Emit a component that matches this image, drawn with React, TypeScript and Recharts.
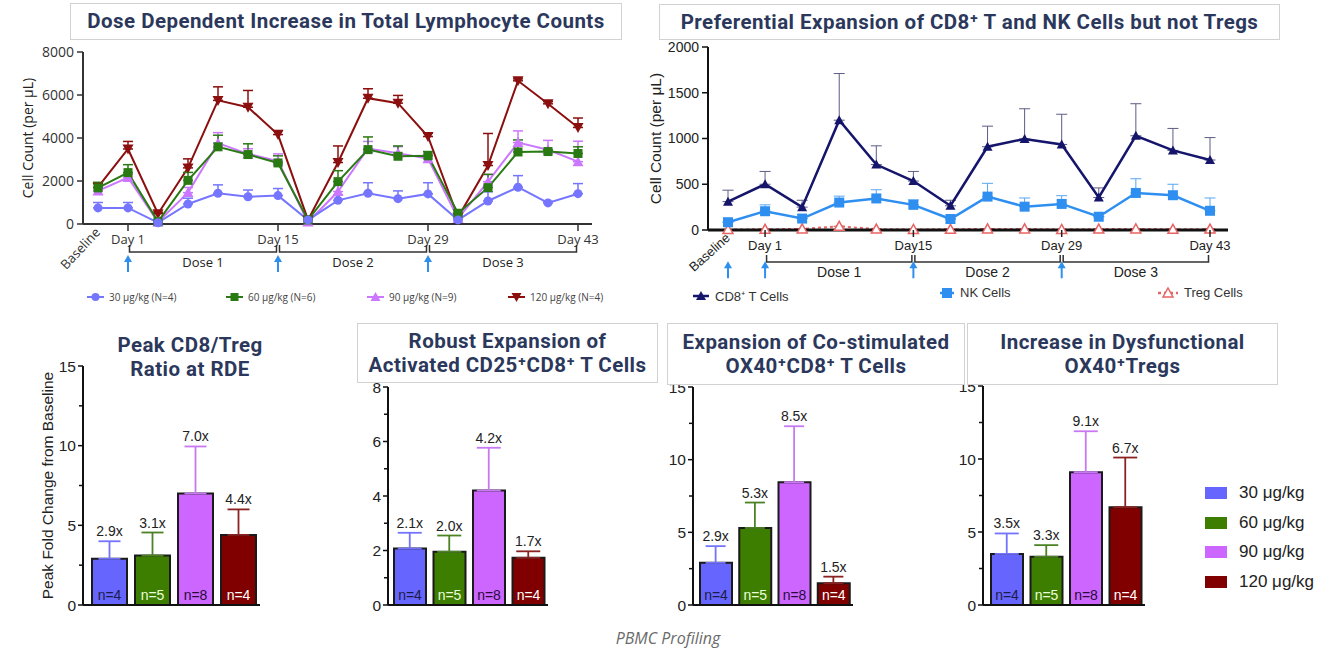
import React from 'react';
import {
  LineChart, Line, XAxis, YAxis, ErrorBar, ReferenceLine, ReferenceDot,
  ComposedChart, Bar, Cell, LabelList,
} from 'recharts';

// fonts / colours
const SANS = "'Liberation Sans', Arial, sans-serif";
const NARROW = "'Liberation Sans Narrow', 'Liberation Sans', Arial, sans-serif";
const PLEX = "'Open Sans', 'Noto Sans', sans-serif";
const TITLE_FONT = "Roboto, 'Open Sans', sans-serif";
const NAVY = '#2b385c';
const ARROW = '#2f8fef';

// ---------- total lymphocyte counts (per uL) ----------
const lymphTimepoints = ['Baseline', 'Day 1', 't2', 't3', 't4', 't5', 'Day 15', 't7', 't8', 't9', 't10', 'Day 29', 't12', 't13', 't14', 't15', 'Day 43'];
const lymphTicks = ['Baseline', 'Day 1', 'Day 15', 'Day 29', 'Day 43'];
const lymph30 = [750, 750, 60, 930, 1430, 1270, 1320, 190, 1100, 1430, 1180, 1400, 190, 1070, 1710, 980, 1410];
const lymph30Top = [1000, 1000, 120, 1200, 1820, 1580, 1650, 250, 1350, 1920, 1540, 1920, 280, 1500, 2250, 1050, 1880];
const lymph60 = [1680, 2390, 110, 2030, 3590, 3230, 2840, 190, 1970, 3460, 3150, 3170, 500, 1690, 3350, 3370, 3280];
const lymph60Top = [1940, 2760, 200, 2400, 4130, 3730, 3170, 250, 2480, 4050, 3630, 3370, 650, 2310, 3910, 3450, 3590];
const lymph90 = [1540, 2160, 90, 1460, 3760, 3260, 2920, 90, 1510, 3510, 3290, 3040, 260, 1970, 3790, 3450, 2900];
const lymph90Top = [1700, 2300, 150, 1700, 4250, 3500, 3260, 150, 1800, 3840, 3600, 3250, 400, 2300, 4330, 3890, 3850];
const lymph120 = [1710, 3490, 480, 2610, 5750, 5430, 4160, 190, 2860, 5850, 5620, 4070, 310, 2720, 6660, 5590, 4490];
const lymph120Top = [1900, 3840, 550, 3030, 6380, 6210, 4350, 250, 3630, 6290, 5980, 4220, 400, 4210, 6750, 5690, 4930];
const lymphDoseRanges = [['Day 1', 'Day 15', 'Dose 1'], ['Day 15', 'Day 29', 'Dose 2'], ['Day 29', 'Day 43', 'Dose 3']];
const lymphArrows = ['Day 1', 'Day 15', 'Day 29'];

// ---------- CD8 / NK / Treg (per uL) ----------
const subsetTimepoints = ['Baseline', 'Day 1', 't2', 't3', 't4', 'Day15', 't6', 't7', 't8', 'Day 29', 't10', 't11', 't12', 'Day 43'];
const subsetTicks = ['Baseline', 'Day 1', 'Day15', 'Day 29', 'Day 43'];
const cd8 = [310, 500, 250, 1200, 715, 535, 265, 910, 995, 935, 355, 1030, 870, 765];
const cd8Top = [435, 640, 325, 1710, 920, 640, 325, 1135, 1325, 1265, 460, 1380, 1110, 1010];
const nk = [85, 205, 125, 300, 345, 275, 120, 365, 255, 285, 145, 405, 380, 210];
const nkTop = [85, 275, 125, 370, 440, 330, 120, 510, 350, 375, 145, 560, 500, 350];
const treg = [5, 8, 12, 40, 10, 6, 8, 12, 12, 6, 10, 12, 8, 10];
const subsetDoseRanges = [['Day 1', 'Day15', 'Dose 1'], ['Day15', 'Day 29', 'Dose 2'], ['Day 29', 'Day 43', 'Dose 3']];
const subsetArrows = ['Baseline', 'Day 1', 'Day15', 'Day 29'];

// ---------- peak fold change bars ----------
const doses = ['30 μg/kg', '60 μg/kg', '90 μg/kg', '120 μg/kg'];
const doseN = ['n=4', 'n=5', 'n=8', 'n=4'];
const doseColors = ['#6666ff', '#3d7d00', '#cc66ff', '#800000'];
const errColors = ['#7373ff', '#4b8222', '#c878f2', '#8b2222'];
const nLabelColors = ['#1c1c48', '#eaffdc', '#2a0a3a', '#ffffff'];

const cd8TregRatio = [2.9, 3.1, 7.0, 4.4];
const cd8TregRatioTop = [4.0, 4.55, 9.95, 6.0];
const cd8TregRatioLabels = ['2.9x', '3.1x', '7.0x', '4.4x'];

const cd25Cd8 = [2.07, 1.95, 4.2, 1.73];
const cd25Cd8Top = [2.65, 2.55, 5.77, 1.97];
const cd25Cd8Labels = ['2.1x', '2.0x', '4.2x', '1.7x'];

const ox40Cd8 = [2.9, 5.3, 8.45, 1.5];
const ox40Cd8Top = [4.05, 7.05, 12.3, 1.95];
const ox40Cd8Labels = ['2.9x', '5.3x', '8.5x', '1.5x'];

const ox40Treg = [3.5, 3.3, 9.1, 6.7];
const ox40TregTop = [4.9, 4.1, 11.9, 10.1];
const ox40TregLabels = ['3.5x', '3.3x', '9.1x', '6.7x'];

const lymphGroups = [
  { key: 'g120', name: '120 μg/kg (N=4)', color: '#8b0f0f', shape: 'triangleDown', mean: lymph120, top: lymph120Top },
  { key: 'g90', name: '90 μg/kg (N=9)', color: '#cc77ff', shape: 'triangle', mean: lymph90, top: lymph90Top },
  { key: 'g60', name: '60 μg/kg (N=6)', color: '#2a7a14', shape: 'square', mean: lymph60, top: lymph60Top },
  { key: 'g30', name: '30 μg/kg (N=4)', color: '#7575ff', shape: 'circle', mean: lymph30, top: lymph30Top },
];

const Marker = ({ cx, cy, shape, color, size }: any) => {
  if (cx == null || cy == null) return null;
  const h = size / 2;
  if (shape === 'circle') return <circle cx={cx} cy={cy} r={h} fill={color} />;
  if (shape === 'square') return <rect x={cx - h} y={cy - h} width={size} height={size} fill={color} />;
  if (shape === 'triangleDown')
    return <polygon points={`${cx - h - 1},${cy - h} ${cx + h + 1},${cy - h} ${cx},${cy + h + 1}`} fill={color} />;
  if (shape === 'triangleOpen')
    return <polygon points={`${cx},${cy - h - 1} ${cx + h + 1},${cy + h} ${cx - h - 1},${cy + h}`} fill="#fff" stroke={color} strokeWidth={1.5} />;
  return <polygon points={`${cx},${cy - h - 1} ${cx + h + 1},${cy + h} ${cx - h - 1},${cy + h}`} fill={color} />;
};

const DayTick = (p: any) => {
  const { x, y, payload, size, color, rot } = p;
  const v = payload.value;
  if (v === 'Baseline') {
    return (
      <text x={0} y={0} transform={`translate(${x + 3},${y + 9}) rotate(${rot})`} textAnchor="end" fontSize={size} fill={color}>
        {v}
      </text>
    );
  }
  return (
    <g>
      <line x1={x} y1={y} x2={x} y2={y + 7} stroke={color} strokeWidth={1.5} />
      <text x={x} y={y + 20} textAnchor="middle" fontSize={size} fill={color}>{v}</text>
    </g>
  );
};

const AxisTitle = (p: any) => {
  const vb = p.viewBox || {};
  const cx = vb.x + p.ox;
  const cy = vb.y + vb.height / 2;
  return (
    <text x={cx} y={cy} transform={`rotate(-90 ${cx} ${cy})`} textAnchor="middle" dominantBaseline="central"
      fontSize={p.size} fill="#222" fontFamily={p.font}>
      {p.text}
    </text>
  );
};

const Bracket = (p: any) => {
  const l = Math.min(p.x1, p.x2) + 1.5;
  const r = Math.max(p.x1, p.x2) - 1.5;
  const y = p.y1;
  return (
    <g>
      <path d={`M${l},${y - 7}L${l},${y}L${r},${y}L${r},${y - 7}`} stroke="#333" strokeWidth={1.5} fill="none" />
      <text x={(l + r) / 2} y={y + 15} textAnchor="middle" fontSize={p.size} fill="#222">{p.text}</text>
    </g>
  );
};

const Arrow = ({ cx, cy }: any) => (
  <g>
    <line x1={cx} y1={cy - 3} x2={cx} y2={cy + 8} stroke={ARROW} strokeWidth={2} />
    <polygon points={`${cx},${cy - 9} ${cx - 4},${cy - 2} ${cx + 4},${cy - 2}`} fill={ARROW} />
  </g>
);

function LymphChart() {
  const data = lymphTimepoints.map((t, i) => {
    const row: any = { t };
    lymphGroups.forEach((g) => {
      row[g.key] = g.mean[i];
      row[g.key + 'Err'] = [0, g.top[i] - g.mean[i]];
    });
    return row;
  });
  return (
    <div style={{ position: 'absolute', left: 0, top: 0, fontFamily: PLEX }}>
      <LineChart width={600} height={280} data={data} margin={{ top: 52, right: 8, bottom: 0, left: 0 }}>
        <XAxis dataKey="t" ticks={lymphTicks} interval={0} padding={{ left: 15, right: 14 }} height={56}
          tickSize={0} tickMargin={0} tickLine={false} axisLine={{ stroke: '#333', strokeWidth: 2 }}
          tick={(p: any) => <DayTick {...p} size={13} color="#333" rot={-47} />} />
        <YAxis domain={[0, 8000]} ticks={[0, 2000, 4000, 6000, 8000]} interval={0} width={83}
          axisLine={{ stroke: '#333', strokeWidth: 2 }} tickLine={{ stroke: '#333', strokeWidth: 1.5 }}
          tickSize={6} tickMargin={3} tick={{ fontSize: 14, fill: '#333' }}
          label={<AxisTitle text="Cell Count (per μL)" ox={27} size={14} font={PLEX} />} />
        {lymphDoseRanges.map(([a, b, txt]) => (
          <ReferenceLine key={txt} segment={[{ x: a, y: -1300 }, { x: b, y: -1300 }]} ifOverflow="visible"
            shape={(p: any) => <Bracket {...p} text={txt} size={13} />} />
        ))}
        {lymphArrows.map((d) => (
          <ReferenceDot key={d} x={d} y={-1860} ifOverflow="visible" shape={(p: any) => <Arrow {...p} />} />
        ))}
        {lymphGroups.map((g) => (
          <Line key={g.key} dataKey={g.key} stroke={g.color} strokeWidth={2} isAnimationActive={false} activeDot={false}
            dot={(p: any) => <Marker key={p.index} cx={p.cx} cy={p.cy} shape={g.shape} color={g.color} size={9} />}>
            <ErrorBar dataKey={g.key + 'Err'} width={5} stroke={g.color} strokeWidth={1.5} direction="y" />
          </Line>
        ))}
      </LineChart>
    </div>
  );
}

const subsetSeries = [
  { key: 'treg', name: 'Treg Cells', color: '#e86464', shape: 'triangleOpen', mean: treg, top: treg, width: 2, dash: '3 3', size: 8, err: '#e86464' },
  { key: 'nk', name: 'NK Cells', color: '#2f8ff0', shape: 'square', mean: nk, top: nkTop, width: 2.5, dash: undefined, size: 10, err: '#5aa6f2' },
  { key: 'cd8', name: 'CD8⁺ T Cells', color: '#15156b', shape: 'triangle', mean: cd8, top: cd8Top, width: 2.5, dash: undefined, size: 8, err: '#5c5c86' },
];

function SubsetChart() {
  const data = subsetTimepoints.map((t, i) => {
    const row: any = { t };
    subsetSeries.forEach((s) => {
      row[s.key] = s.mean[i];
      row[s.key + 'Err'] = [0, s.top[i] - s.mean[i]];
    });
    return row;
  });
  return (
    <div style={{ position: 'absolute', left: 620, top: 0, fontFamily: NARROW }}>
      <LineChart width={620} height={285} data={data} margin={{ top: 47, right: 12, bottom: 0, left: 0 }}>
        <XAxis dataKey="t" ticks={subsetTicks} interval={0} padding={{ left: 20, right: 18 }} height={55}
          tickSize={0} tickMargin={0} tickLine={false} axisLine={{ stroke: '#111', strokeWidth: 3 }}
          tick={(p: any) => <DayTick {...p} size={13} color="#222" rot={-42} />} />
        <YAxis domain={[0, 2000]} ticks={[0, 500, 1000, 1500, 2000]} interval={0} width={88}
          axisLine={{ stroke: '#111', strokeWidth: 2 }} tickLine={{ stroke: '#111', strokeWidth: 1.5 }}
          tickSize={6} tickMargin={3} tick={{ fontSize: 14, fill: '#222' }}
          label={<AxisTitle text="Cell Count (per μL)" ox={35} size={15.5} font={SANS} />} />
        {subsetDoseRanges.map(([a, b, txt]) => (
          <ReferenceLine key={txt} segment={[{ x: a, y: -350 }, { x: b, y: -350 }]} ifOverflow="visible"
            shape={(p: any) => <Bracket {...p} text={txt} size={14} />} />
        ))}
        {subsetArrows.map((d) => (
          <ReferenceDot key={d} x={d} y={-440} ifOverflow="visible" shape={(p: any) => <Arrow {...p} />} />
        ))}
        {subsetSeries.map((s) => (
          <Line key={s.key} dataKey={s.key} stroke={s.color} strokeWidth={s.width} strokeDasharray={s.dash}
            isAnimationActive={false} activeDot={false}
            dot={(p: any) => <Marker key={p.index} cx={p.cx} cy={p.cy} shape={s.shape} color={s.color} size={s.size} />}>
            <ErrorBar dataKey={s.key + 'Err'} width={5.5} stroke={s.err} strokeWidth={1} direction="y" />
          </Line>
        ))}
      </LineChart>
    </div>
  );
}

const FoldTick = (p: any) => {
  const { x, y, payload, majors } = p;
  const major = majors.includes(payload.value);
  return (
    <g>
      <line x1={x} x2={x - (major ? 5 : 4)} y1={y} y2={y} stroke="#111" strokeWidth={1.5} />
      {major && (
        <text x={x - 7} y={y} dy="0.36em" textAnchor="end" fontSize={15.5} fill="#222">{payload.value}</text>
      )}
    </g>
  );
};

const NLabel = (p: any) => (
  <text x={p.x + p.width / 2} y={p.y + p.height - 5} textAnchor="middle" fontSize={14} fill={nLabelColors[p.index]}>
    {p.value}
  </text>
);

function FoldChart(props: any) {
  const { left, width, yWidth, right, topMargin, padLeft, barSize, capHalf, domain, ticks, majors, values, tops, folds, yTitle } = props;
  const rows = doses.map((dose, i) => {
    const row: any = { dose, value: values[i], top: tops[i], fold: folds[i], n: doseN[i] };
    doses.forEach((_, k) => {
      row['e' + k] = k === i ? [0, tops[i] - values[i]] : null;
    });
    return row;
  });
  return (
    <div style={{ position: 'absolute', left, top: 330, fontFamily: SANS }}>
      <ComposedChart width={width} height={290} data={rows} margin={{ top: topMargin, right, bottom: 0, left: 0 }}>
        <XAxis dataKey="dose" tick={false} tickLine={false} height={15} padding={{ left: padLeft, right: 0 }}
          axisLine={{ stroke: '#111', strokeWidth: 2 }} />
        <YAxis domain={domain} ticks={ticks} interval={0} width={yWidth} tickSize={0} tickMargin={0} tickLine={false}
          axisLine={{ stroke: '#111', strokeWidth: 2 }} tick={(p: any) => <FoldTick {...p} majors={majors} />}
          label={yTitle ? <AxisTitle text={yTitle} ox={47} size={15.5} font={SANS} /> : undefined} />
        <Line dataKey="value" stroke="none" dot={false} activeDot={false} isAnimationActive={false}>
          {doses.map((d, k) => (
            <ErrorBar key={d} dataKey={'e' + k} width={capHalf} stroke={errColors[k]} strokeWidth={1.8} direction="y" />
          ))}
        </Line>
        <Bar dataKey="value" barSize={barSize} stroke="#1a1a1a" strokeWidth={2} isAnimationActive={false}>
          {doses.map((d, i) => <Cell key={d} fill={doseColors[i]} />)}
          <LabelList dataKey="n" content={NLabel} />
        </Bar>
        <Line dataKey="top" stroke="none" dot={false} activeDot={false} isAnimationActive={false}>
          <LabelList dataKey="fold" position="top" offset={5} fontSize={14} fill="#222" />
        </Line>
      </ComposedChart>
    </div>
  );
}

const TitleBox = ({ left, top, width, height, lines, boxed = true }: any) => (
  <div style={{
    position: 'absolute', left, top, width, height, boxSizing: 'border-box',
    border: boxed ? '1px solid #d2d2d2' : 'none', background: boxed ? '#fff' : 'transparent',
    display: 'flex', flexDirection: 'column', alignItems: 'center', justifyContent: 'center',
    color: NAVY, fontFamily: TITLE_FONT, fontWeight: 700, fontSize: 20.5, letterSpacing: '0.45px', lineHeight: '24.5px', whiteSpace: 'nowrap',
  }}>
    {lines.map((l: string) => <div key={l}>{l}</div>)}
  </div>
);

const lymphLegendX = [508, 367, 226, 87];
const subsetLegend = [
  { x: 693, y: 287, sw: 16 },
  { x: 940, y: 285, sw: 14 },
  { x: 1158, y: 285, sw: 20 },
];

export default function App() {
  return (
    <div style={{ position: 'absolute', left: 0, top: 0, width: 1325, height: 648, overflow: 'hidden', background: '#fff' }}>
      <LymphChart />
      <SubsetChart />

      {lymphGroups.map((g, i) => (
        <div key={g.key} style={{ position: 'absolute', left: lymphLegendX[i], top: 290, display: 'flex', alignItems: 'center', fontFamily: PLEX, fontSize: 10, color: '#444' }}>
          <svg width={17} height={12} style={{ marginRight: 5 }}>
            <line x1={0} y1={6} x2={17} y2={6} stroke={g.color} strokeWidth={2} />
            <Marker cx={8.5} cy={6} shape={g.shape} color={g.color} size={8} />
          </svg>
          <span>{g.name}</span>
        </div>
      ))}

      {[...subsetSeries].reverse().map((s, i) => (
        <div key={s.key} style={{ position: 'absolute', left: subsetLegend[i].x, top: subsetLegend[i].y, display: 'flex', alignItems: 'center', fontFamily: NARROW, fontSize: 13, color: '#333' }}>
          <svg width={subsetLegend[i].sw} height={14} style={{ marginRight: 6 }}>
            <line x1={0} y1={7} x2={subsetLegend[i].sw} y2={7} stroke={s.color} strokeWidth={2.5} strokeDasharray={s.dash} />
            <Marker cx={subsetLegend[i].sw / 2} cy={7} shape={s.shape} color={s.color} size={s.size} />
          </svg>
          <span>{s.name}</span>
        </div>
      ))}

      <FoldChart left={0} width={270} yWidth={83} right={10} topMargin={36} padLeft={5} barSize={35} capHalf={11}
        domain={[0, 15]} ticks={[0, 2.5, 5, 7.5, 10, 12.5, 15]} majors={[0, 5, 10, 15]}
        values={cd8TregRatio} tops={cd8TregRatioTop} folds={cd8TregRatioLabels} yTitle="Peak Fold Change from Baseline" />
      <FoldChart left={340} width={220} yWidth={48} right={12} topMargin={57} padLeft={2} barSize={32} capHalf={12}
        domain={[0, 8]} ticks={[0, 1, 2, 3, 4, 5, 6, 7, 8]} majors={[0, 2, 4, 6, 8]}
        values={cd25Cd8} tops={cd25Cd8Top} folds={cd25Cd8Labels} />
      <FoldChart left={650} width={215} yWidth={43} right={12} topMargin={57} padLeft={3} barSize={32} capHalf={10}
        domain={[0, 15]} ticks={[0, 2.5, 5, 7.5, 10, 12.5, 15]} majors={[0, 5, 10, 15]}
        values={ox40Cd8} tops={ox40Cd8Top} folds={ox40Cd8Labels} />
      <FoldChart left={940} width={215} yWidth={43} right={10} topMargin={56} padLeft={4} barSize={32} capHalf={12}
        domain={[0, 15]} ticks={[0, 2.5, 5, 7.5, 10, 12.5, 15]} majors={[0, 5, 10, 15]}
        values={ox40Treg} tops={ox40TregTop} folds={ox40TregLabels} />

      <TitleBox left={70} top={3} width={552} height={37} lines={['Dose Dependent Increase in Total Lymphocyte Counts']} />
      <TitleBox left={659} top={4} width={621} height={36} lines={['Preferential Expansion of CD8⁺ T and NK Cells but not Tregs']} />
      <TitleBox left={90} top={331} width={200} height={52} boxed={false} lines={['Peak CD8/Treg', 'Ratio at RDE']} />
      <TitleBox left={357} top={323} width={301} height={60} lines={['Robust Expansion of', 'Activated CD25⁺CD8⁺ T Cells']} />
      <TitleBox left={667} top={323} width={298} height={62} lines={['Expansion of Co-stimulated', 'OX40⁺CD8⁺ T Cells']} />
      <TitleBox left={967} top={323} width={311} height={62} lines={['Increase in Dysfunctional', 'OX40⁺Tregs']} />

      {doses.map((d, i) => (
        <div key={d} style={{ position: 'absolute', left: 1205, top: 483 + i * 29.7, display: 'flex', alignItems: 'center', fontFamily: SANS, fontSize: 17, color: '#222', whiteSpace: 'nowrap' }}>
          <div style={{ width: 22, height: 12, background: doseColors[i], marginRight: 12 }} />
          <span>{d}</span>
        </div>
      ))}

      <div style={{ position: 'absolute', left: 0, width: 1336, top: 630, textAlign: 'center', fontFamily: PLEX, fontStyle: 'italic', fontSize: 16, lineHeight: '17px', color: '#6a6a6a' }}>
        PBMC Profiling
      </div>
    </div>
  );
}
